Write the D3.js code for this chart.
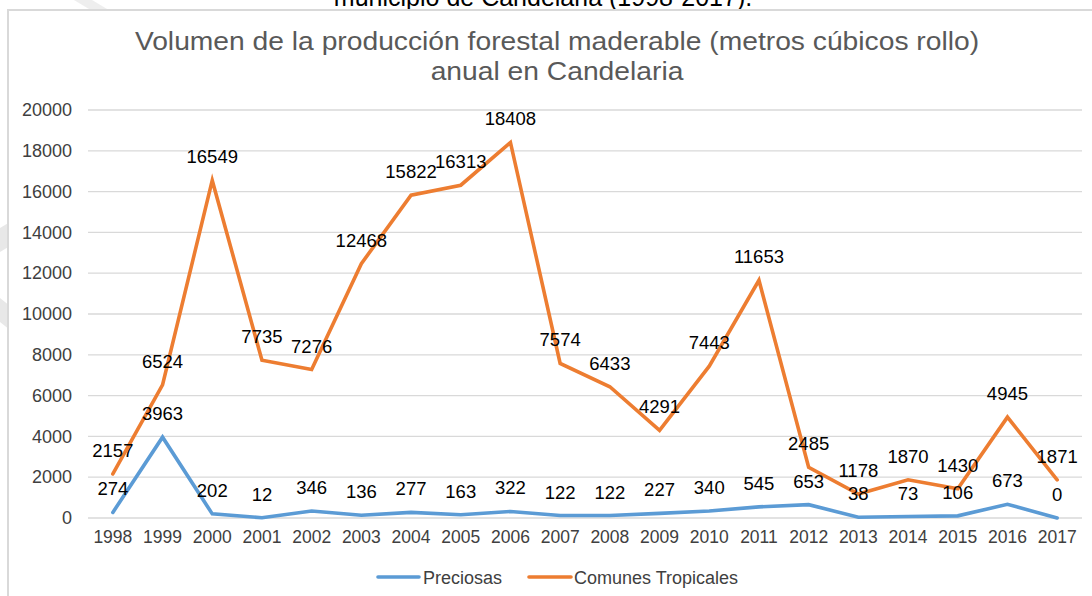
<!DOCTYPE html>
<html><head><meta charset="utf-8">
<script src="https://cdn.jsdelivr.net/npm/d3@7"></script>
<style>body{margin:0;background:#fff}svg{display:block;font-family:"Liberation Sans",Arial,sans-serif}</style>
</head><body>
<svg id="c" width="1092" height="596"></svg>
<script>
const years = ["1998","1999","2000","2001","2002","2003","2004","2005","2006","2007","2008","2009","2010","2011","2012","2013","2014","2015","2016","2017"];
const preciosas = [274,3963,202,12,346,136,277,163,322,122,122,227,340,545,653,38,73,106,673,0];
const comunes = [2157,6524,16549,7735,7276,12468,15822,16313,18408,7574,6433,4291,7443,11653,2485,1178,1870,1430,4945,1871];
const yTicks = [0,2000,4000,6000,8000,10000,12000,14000,16000,18000,20000];
const seriesNames = ["Preciosas","Comunes Tropicales"];
const colors = ["#5b9bd5","#ed7d31"];

const svg = d3.select("#c");
// watermark fragments
svg.append("polygon").attr("points","0,228 10,222 10,246 0,252").attr("fill","#e8e8e8");
svg.append("polygon").attr("points","0,298 10,306 10,330 0,322").attr("fill","#e8e8e8");
svg.append("polygon").attr("points","74,0 92,0 112,12 94,12").attr("fill","#eeeeee");
// cut-off caption above (partly outside the picture, as in the reference)
svg.append("text").attr("x",543).attr("y",6).attr("text-anchor","middle").attr("font-size",25).attr("fill","#000")
  .text("municipio de Candelaria (1998-2017).");
// chart frame
svg.append("rect").attr("x",8).attr("y",10).attr("width",1100).attr("height",600).attr("fill","#fff").attr("stroke","#d9d9d9").attr("stroke-width",2);

const x = d3.scaleBand().domain(years).range([88,1082]);
const y = d3.scaleLinear().domain([0,20000]).range([518,110]);

// title
const title = svg.append("text").attr("text-anchor","middle").attr("fill","#595959").attr("font-size",25)
  .attr("transform","translate(557,0) scale(1.13,1)");
title.append("tspan").attr("x",0).attr("y",50).text("Volumen de la producción forestal maderable (metros cúbicos rollo)");
title.append("tspan").attr("x",0).attr("y",80).text("anual en Candelaria");

// gridlines
svg.append("g").selectAll("line").data(yTicks).join("line")
  .attr("x1",88).attr("x2",1082).attr("y1",d=>y(d)).attr("y2",d=>y(d))
  .attr("stroke","#d9d9d9").attr("stroke-width",1.3);

// y axis
const ya = svg.append("g").attr("transform","translate(88,0)")
  .call(d3.axisLeft(y).tickValues(yTicks).tickSize(0).tickPadding(16).tickFormat(d3.format("d")));
ya.select(".domain").remove();
ya.selectAll("text").attr("font-size",18).attr("fill","#404040").attr("font-family","Liberation Sans, Arial, sans-serif");

// x axis
const xa = svg.append("g").attr("transform","translate(0,518)")
  .call(d3.axisBottom(x).tickSize(0).tickPadding(13));
xa.select(".domain").remove();
xa.selectAll("text").attr("font-size",17.5).attr("fill","#404040").attr("font-family","Liberation Sans, Arial, sans-serif");

const cx = d => x(d) + x.bandwidth()/2;
const line = d3.line().x((d,i)=>cx(years[i])).y(d=>y(d));
[preciosas, comunes].forEach((s,k)=>{
  svg.append("path").datum(s).attr("d",line).attr("fill","none")
    .attr("stroke",colors[k]).attr("stroke-width",3.6).attr("stroke-linejoin","miter").attr("stroke-linecap","round");
});
[preciosas, comunes].forEach((s,k)=>{
  svg.append("g").selectAll("text").data(s).join("text")
    .attr("x",(d,i)=>cx(years[i])).attr("y",d=>y(d)-17)
    .attr("text-anchor","middle").attr("font-size",18.5).attr("fill","#000")
    .text(d=>d);
});

// legend
const lg = [{x1:378,x2:419,tx:423},{x1:529,x2:571,tx:574}];
lg.forEach((l,k)=>{
  svg.append("line").attr("x1",l.x1).attr("x2",l.x2).attr("y1",577).attr("y2",577)
    .attr("stroke",colors[k]).attr("stroke-width",3.6).attr("stroke-linecap","round");
  svg.append("text").attr("x",l.tx).attr("y",583.5).attr("font-size",18).attr("fill","#404040").text(seriesNames[k]);
});
</script>
</body></html>
